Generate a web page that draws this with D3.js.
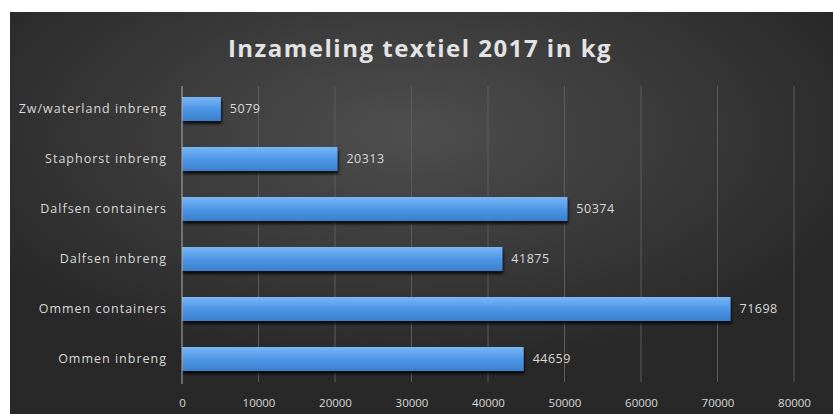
<!DOCTYPE html>
<html lang="nl">
<head>
<meta charset="UTF-8">
<title>Inzameling textiel 2017 in kg</title>
<script src="https://cdn.jsdelivr.net/npm/d3@7"></script>
<style>
  body { margin: 0; background: #fff; }
  text { font-family: "Open Sans", "DejaVu Sans", sans-serif; }
</style>
</head>
<body>
<svg width="833" height="414"></svg>
<script>
// data, top to bottom as in the picture
var categories = ["Zw/waterland inbreng", "Staphorst inbreng", "Dalfsen containers",
                  "Dalfsen inbreng", "Ommen containers", "Ommen inbreng"];
var values = [5079, 20313, 50374, 41875, 71698, 44659];
var xTicks = [0, 10000, 20000, 30000, 40000, 50000, 60000, 70000, 80000];

var svg = d3.select("svg");
var defs = svg.append("defs");

// dark background, a bit lighter in the middle
var bg = defs.append("radialGradient").attr("id", "bg")
    .attr("cx", "48%").attr("cy", "30%").attr("r", "60%");
bg.append("stop").attr("offset", "0%").attr("stop-color", "#4e4e4e");
bg.append("stop").attr("offset", "100%").attr("stop-color", "#282828");

var barGrad = defs.append("linearGradient").attr("id", "bar")
    .attr("x1", 0).attr("y1", 0).attr("x2", 0).attr("y2", 1);
barGrad.append("stop").attr("offset", "0%").attr("stop-color", "#79b6f5");
barGrad.append("stop").attr("offset", "50%").attr("stop-color", "#4e97e6");
barGrad.append("stop").attr("offset", "100%").attr("stop-color", "#3a7fce");

var shadow = defs.append("filter").attr("id", "shadow")
    .attr("x", "-5%").attr("y", "-20%").attr("width", "115%").attr("height", "160%");
shadow.append("feDropShadow").attr("dx", 1).attr("dy", 3).attr("stdDeviation", 1.5)
    .attr("flood-color", "#000").attr("flood-opacity", 0.8);

svg.append("rect").attr("x", 10).attr("y", 12).attr("width", 823).attr("height", 402)
    .attr("fill", "url(#bg)");

svg.append("text")
    .attr("x", 420).attr("y", 57)
    .attr("text-anchor", "middle")
    .attr("font-size", 24).attr("font-weight", "bold")
    .attr("letter-spacing", 1.5)
    .attr("fill", "#e3e3e3")
    .text("Inzameling textiel 2017 in kg");

var x = d3.scaleLinear().domain([0, 80000]).range([182, 794]);
var y = d3.scaleBand().domain(categories).range([84, 384]).paddingInner(0.52).paddingOuter(0.26);

// gridlines
svg.append("g").selectAll("line").data(xTicks.slice(1)).enter().append("line")
    .attr("x1", d => x(d)).attr("x2", d => x(d))
    .attr("y1", 86).attr("y2", 382)
    .attr("stroke", "#5c5c5c").attr("stroke-width", 1);

// bars
svg.append("g").selectAll("rect").data(values).enter().append("rect")
    .attr("x", x(0))
    .attr("y", (d, i) => y(categories[i]))
    .attr("width", d => x(d) - x(0))
    .attr("height", y.bandwidth())
    .attr("fill", "url(#bar)")
    .attr("filter", "url(#shadow)");

// value labels
svg.append("g").selectAll("text").data(values).enter().append("text")
    .attr("x", d => x(d) + 9)
    .attr("y", (d, i) => y(categories[i]) + y.bandwidth() / 2)
    .attr("dy", "0.35em")
    .attr("font-size", 12.5)
    .attr("letter-spacing", 0.5)
    .attr("fill", "#d9d9d9")
    .text(d => d);

// y axis
var yAxis = d3.axisLeft(y).tickSize(0).tickPadding(15);
var gy = svg.append("g").attr("transform", "translate(" + x(0) + ",0)").call(yAxis);
gy.select(".domain").attr("stroke", "#b0b0b0").attr("d", "M0,86V384");
gy.selectAll("text").attr("font-size", 12.5).attr("fill", "#d9d9d9")
    .attr("letter-spacing", 1)
    .style("font-family", "'Open Sans', 'DejaVu Sans', sans-serif");

// x axis (labels only)
var xAxis = d3.axisBottom(x).tickValues(xTicks).tickSize(0).tickPadding(0).tickFormat(d3.format("d"));
var gx = svg.append("g").attr("transform", "translate(0,399)").call(xAxis);
gx.select(".domain").remove();
gx.selectAll("text").attr("font-size", 11.5).attr("fill", "#d9d9d9")
    .style("font-family", "'Open Sans', 'DejaVu Sans', sans-serif");
</script>
</body>
</html>
